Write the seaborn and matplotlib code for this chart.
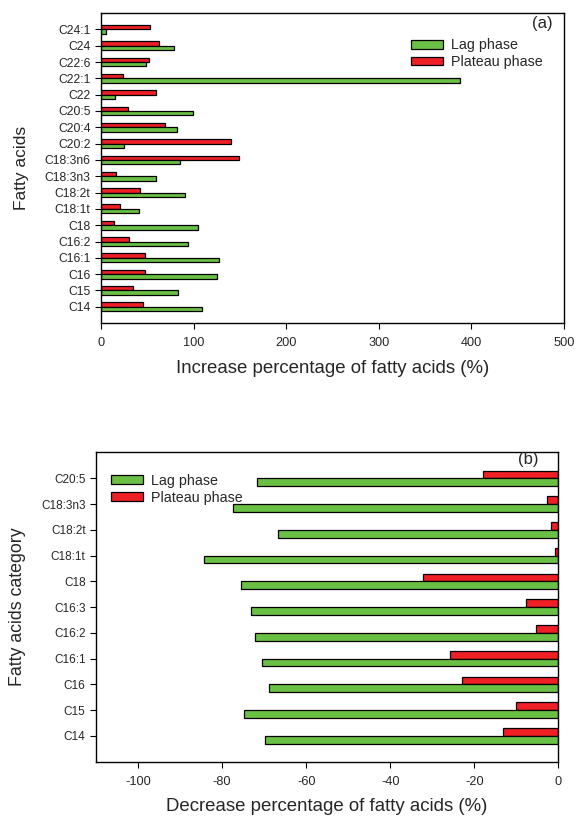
import numpy as np
import pandas as pd
import matplotlib
matplotlib.use("Agg")
import matplotlib.pyplot as plt
import seaborn as sns

# panel (a): increase
acids_a = ['C24:1', 'C24', 'C22:6', 'C22:1', 'C22', 'C20:5', 'C20:4', 'C20:2', 'C18:3n6',
           'C18:3n3', 'C18:2t', 'C18:1t', 'C18', 'C16:2', 'C16:1', 'C16', 'C15', 'C14']
lag_a = [5, 79, 49, 388, 15, 99, 82, 25, 85, 59, 91, 41, 105, 94, 127, 125, 83, 109]
plateau_a = [53, 63, 52, 24, 59, 29, 69, 140, 149, 16, 42, 21, 14, 30, 48, 47, 35, 45]

# panel (b): decrease
acids_b = ['C20:5', 'C18:3n3', 'C18:2t', 'C18:1t', 'C18', 'C16:3', 'C16:2', 'C16:1', 'C16', 'C15', 'C14']
lag_b = [-71.6, -77.4, -66.7, -84.2, -75.6, -73.1, -72.1, -70.4, -68.8, -74.9, -69.7]
plateau_b = [-17.9, -2.6, -1.8, -0.9, -32.1, -7.8, -5.2, -25.7, -22.8, -10.1, -13.1]

GREEN = '#6abf45'
RED = '#ee2026'
phases = ['Plateau phase', 'Lag phase']
pal = {'Lag phase': GREEN, 'Plateau phase': RED}


def long_df(acids, lag, plateau):
    return pd.DataFrame({
        'acid': acids * 2,
        'phase': ['Lag phase'] * len(acids) + ['Plateau phase'] * len(acids),
        'value': list(lag) + list(plateau),
    })


sns.set_style('ticks')
plt.rcParams['font.family'] = ['Liberation Sans', 'DejaVu Sans']
plt.rcParams['axes.unicode_minus'] = False

fig = plt.figure(figsize=(5.76, 8.16), dpi=100)
ax1 = fig.add_axes([0.1753, 0.604, 0.804, 0.380])
ax2 = fig.add_axes([0.1667, 0.0665, 0.8026, 0.379])


def draw(ax, df, order, width):
    sns.barplot(data=df, x='value', y='acid', hue='phase', order=order, hue_order=phases,
                palette=pal, orient='h', errorbar=None, width=width, dodge=True,
                edgecolor='black', linewidth=0.9, saturation=1, ax=ax)
    for s in ax.spines.values():
        s.set_visible(True)
        s.set_linewidth(1.0)
        s.set_color('black')
    ax.tick_params(direction='out', length=4, width=0.8, color='black')
    ax.set_ylim(len(order), -1)


def legend(ax, anchor):
    h, l = ax.get_legend_handles_labels()
    ax.legend([h[1], h[0]], [l[1], l[0]], loc='upper left', bbox_to_anchor=anchor,
              frameon=False, fontsize=10.3, handlelength=2.25, handleheight=0.56,
              labelspacing=0.2, handletextpad=0.55, borderaxespad=0)


df_a = long_df(acids_a, lag_a, plateau_a)
draw(ax1, df_a, acids_a, 0.54)
ax1.set_xlim(0, 500)
ax1.set_xticks([0, 100, 200, 300, 400, 500])
ax1.tick_params(axis='y', labelsize=8.7)
ax1.tick_params(axis='x', labelsize=9.2, pad=6)
ax1.set_xlabel('Increase percentage of fatty acids (%)', fontsize=13.4)
ax1.set_ylabel('Fatty acids', fontsize=12.5)
ax1.xaxis.set_label_coords(0.5, -0.12)
ax1.yaxis.set_label_coords(-0.155, 0.5)
ax1.text(0.975, 0.99, '(a)', transform=ax1.transAxes, ha='right', va='top', fontsize=12)
legend(ax1, (0.657, 0.937))

df_b = long_df(acids_b, lag_b, plateau_b)
draw(ax2, df_b, acids_b, 0.6)
ax2.set_xlim(-110, 0)
ax2.set_xticks([-100, -80, -60, -40, -20, 0])
ax2.tick_params(axis='y', labelsize=8.5)
ax2.tick_params(axis='x', labelsize=9.2, pad=6)
ax2.set_xlabel('Decrease percentage of fatty acids (%)', fontsize=13.4)
ax2.set_ylabel('Fatty acids category', fontsize=12.8)
ax2.xaxis.set_label_coords(0.5, -0.118)
ax2.yaxis.set_label_coords(-0.152, 0.5)
ax2.text(0.935, 1.0, '(b)', transform=ax2.transAxes, ha='center', va='top', fontsize=12)
legend(ax2, (0.019, 0.95))

plt.savefig('out.png', dpi=100)
